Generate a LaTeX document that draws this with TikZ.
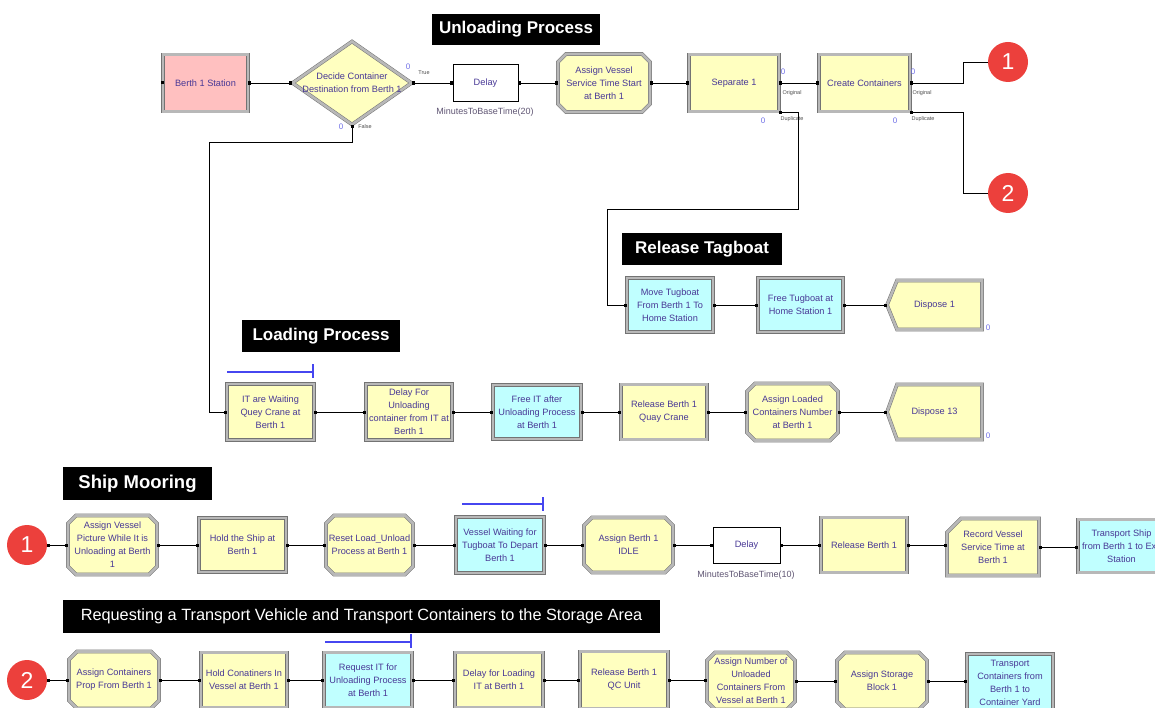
\documentclass[tikz,border=0pt]{standalone}
\usepackage{fontspec}
\setmainfont{Liberation Sans}
\usetikzlibrary{arrows.meta,calc}
\definecolor{byel}{RGB}{255,255,192}
\definecolor{bcyan}{RGB}{192,255,255}
\definecolor{bpink}{RGB}{255,192,192}
\definecolor{btxt}{RGB}{72,56,150}
\definecolor{bgrey}{RGB}{95,85,115}
\definecolor{bblue}{RGB}{70,70,240}
\definecolor{bzero}{RGB}{110,110,230}
\definecolor{bred}{RGB}{236,64,60}
\tikzset{
  modline/.style={draw=black!55, double=black!28, double distance=2.6pt, line width=0.5pt, line join=miter},
  txt/.style={align=center, text=btxt, inner sep=0pt, font=\fontsize{9.2}{13}\selectfont},
  rbox/.style={modline, txt, rectangle},
  dbox/.style={draw=black, line width=0.7pt, fill=white, txt, rectangle},
  conn/.style={draw=black, line width=0.9pt, arrows={Square[length=3pt,width=3pt]-Square[length=3pt,width=3pt]}},
  conns/.style={draw=black, line width=0.9pt, arrows={Square[length=3pt,width=3pt]-}},
  queue/.style={draw=bblue, line width=1.1pt},
  banner/.style={fill=black, text=white, inner sep=0pt, font=\fontsize{17}{19}\selectfont\bfseries},
  circ/.style={circle, fill=bred, text=white, minimum size=40pt, inner sep=0pt, font=\fontsize{23}{23}\selectfont},
  tiny/.style={inner sep=0pt, text=black!70, font=\fontsize{5.5}{6}\selectfont},
  zero/.style={inner sep=0pt, text=bzero, font=\fontsize{8}{8}\selectfont},
  expr/.style={inner sep=0pt, text=bgrey, font=\fontsize{9}{10}\selectfont},
}
% octagon module: name, cx, cy, w, h, fill, text
\newcommand\OctMod[7]{%
  \path[modline,fill=#6] (#2-#4/2,#3-#5/2+8) -- (#2-#4/2+8,#3-#5/2) -- (#2+#4/2-8,#3-#5/2) -- (#2+#4/2,#3-#5/2+8) -- (#2+#4/2,#3+#5/2-8) -- (#2+#4/2-8,#3+#5/2) -- (#2-#4/2+8,#3+#5/2) -- (#2-#4/2,#3+#5/2-8) -- cycle;
  \node[txt,minimum width=#4,minimum height=#5] (#1) at (#2,#3) {#7};}
% dispose module
\newcommand\DispMod[7]{%
  \path[modline,fill=#6] (#2-#4/2,#3) -- (#2-#4/2+10,#3-#5/2) -- (#2+#4/2,#3-#5/2) -- (#2+#4/2,#3+#5/2) -- (#2-#4/2+10,#3+#5/2) -- cycle;
  \node[txt,minimum width=#4,minimum height=#5] (#1) at (#2,#3) {#7};}
% record module
\newcommand\RecMod[7]{%
  \path[modline,fill=#6] (#2-#4/2,#3-#5/2+14) -- (#2-#4/2+14,#3-#5/2) -- (#2+#4/2,#3-#5/2) -- (#2+#4/2,#3+#5/2) -- (#2-#4/2,#3+#5/2) -- cycle;
  \node[txt,minimum width=#4,minimum height=#5] (#1) at (#2,#3) {#7};}
\begin{document}
\begin{tikzpicture}[x=1pt,y=-1pt]
\useasboundingbox (0,0) rectangle (1155,708);
\clip (0,0) rectangle (1155,708);

% ---------- banners ----------
\node[banner, minimum width=168pt, minimum height=31pt] (bUnl) at (516,29.5) {Unloading Process};
\node[banner, minimum width=160pt, minimum height=32pt] (bTag) at (702,249) {Release Tagboat};
\node[banner, minimum width=158pt, minimum height=32pt] (bLoad) at (321,336) {Loading Process};
\node[banner, minimum width=149pt, minimum height=33pt, font=\fontsize{18.5}{20}\selectfont\bfseries] (bShip) at (137.5,483.5) {Ship Mooring};
\node[banner, minimum width=597pt, minimum height=33pt, font=\fontsize{16.3}{18}\selectfont] (bReq) at (361.5,616.5) {Requesting a Transport Vehicle and Transport Containers to the Storage Area};

% ---------- unloading process ----------
\node[rbox, fill=bpink, minimum width=85pt, minimum height=57pt] (st) at (205.5,83) {Berth 1 Station};
\fill[black] ($(st.west)+(-1.5,-1.5)$) rectangle ($(st.west)+(1.5,1.5)$);
\path[modline, fill=byel] (292.5,83) -- (352,41.5) -- (411.5,83) -- (352,124.5) -- cycle;
\node[txt, minimum width=119pt, minimum height=83pt] (dec) at (352,83) {Decide Container\\Destination from Berth 1};
\node[dbox, minimum width=65pt, minimum height=37pt] (dl1) at (485.5,83) {Delay};
\node[expr] (ex1) at (485,112.5) {MinutesToBaseTime(20)};
\OctMod{avs}{604}{83}{92}{58}{byel}{Assign Vessel\\Service Time Start\\at Berth 1}
\node[rbox, fill=byel, minimum width=90pt, minimum height=57pt] (sep) at (734,83) {Separate 1};
\node[rbox, fill=byel, minimum width=91pt, minimum height=57pt] (cc) at (864.5,83) {Create Containers};
\node[circ] (c1) at (1008,62) {1};
\node[circ] (c2) at (1008,193) {2};

\node[zero] (z1) at (408,67) {0};
\node[tiny] (tr) at (424,72.5) {True};
\node[zero] (z2) at (341,127) {0};
\node[tiny] (fa) at (365,127) {False};
\node[zero] (z3) at (783,72) {0};
\node[tiny] (o1) at (792,93) {Original};
\node[zero] (z4) at (763,121) {0};
\node[tiny] (du1) at (792,119.5) {Duplicate};
\node[zero] (z5) at (913,72) {0};
\node[tiny] (o2) at (922,93) {Original};
\node[zero] (z6) at (895,121) {0};
\node[tiny] (du2) at (923,119.5) {Duplicate};

\draw[conn] (st.east) -- (dec.west);
\draw[conn] (dec.east) -- (dl1.west);
\draw[conn] (dl1.east) -- (avs.west);
\draw[conn] (avs.east) -- (sep.west);
\draw[conn] (sep.east) -- (cc.west);
\draw[conns] (cc.east) -- ++(53,0) |- (c1.west);
\draw[conns] ($(cc.south east)+(0,1)$) -- ++(53,0) |- (c2.west);

% ---------- release tagboat ----------
\node[rbox, fill=bcyan, minimum width=86pt, minimum height=54pt] (mt) at (670,305) {Move Tugboat\\From Berth 1 To\\Home Station};
\node[rbox, fill=bcyan, minimum width=85pt, minimum height=54pt] (ft) at (800.5,305) {Free Tugboat at\\Home Station 1};
\DispMod{d1}{934.5}{305}{95}{49}{byel}{Dispose 1}
\node[zero] (z7) at (988,328) {0};
\draw[conn] ($(sep.south east)+(0,1)$) -- ++(19,0) -- ++(0,97) -| ($(mt.west)+(-19,0)$) -- (mt.west);
\draw[conn] (mt.east) -- (ft.west);
\draw[conn] (ft.east) -- (d1.west);

% ---------- loading process ----------
\draw[queue] (227,372) -- (313,372);
\draw[queue] (313,364) -- (313,378);
\node[rbox, fill=byel, minimum width=87pt, minimum height=56pt] (itw) at (270.5,412) {IT are Waiting\\Quey Crane at\\Berth 1};
\node[rbox, fill=byel, minimum width=86pt, minimum height=56pt] (dfu) at (409,412) {Delay For\\Unloading\\container from IT at\\Berth 1};
\node[rbox, fill=bcyan, minimum width=88pt, minimum height=54pt] (fit) at (537,412) {Free IT after\\Unloading Process\\at Berth 1};
\node[rbox, fill=byel, minimum width=86pt, minimum height=55pt] (rbq) at (664,412) {Release Berth 1\\Quay Crane};
\OctMod{alc}{792.5}{412}{91}{57}{byel}{Assign Loaded\\Containers Number\\at Berth 1}
\DispMod{d13}{934.5}{412}{95}{55}{byel}{Dispose 13}
\node[zero] (z8) at (988,436) {0};
\draw[conn] (dec.south) -- ++(0,18) -| ($(itw.west)+(-17,0)$) -- (itw.west);
\draw[conn] (itw.east) -- (dfu.west);
\draw[conn] (dfu.east) -- (fit.west);
\draw[conn] (fit.east) -- (rbq.west);
\draw[conn] (rbq.east) -- (alc.west);
\draw[conn] (alc.east) -- (d13.west);

% ---------- ship mooring ----------
\node[circ] (c1b) at (27,545) {1};
\OctMod{avp}{112.5}{545}{89}{59}{byel}{Assign Vessel\\Picture While It is\\Unloading at Berth\\1}
\node[rbox, fill=byel, minimum width=87pt, minimum height=54pt] (hs) at (242.5,545) {Hold the Ship at\\Berth 1};
\OctMod{rlu}{369.5}{545}{87}{59}{byel}{Reset Load\_Unload\\Process at Berth 1}
\draw[queue] (462,504) -- (543,504);
\draw[queue] (543,497) -- (543,511);
\node[rbox, fill=bcyan, minimum width=88pt, minimum height=56pt] (vw) at (500,545) {Vessel Waiting for\\Tugboat To Depart\\Berth 1};
\OctMod{ab}{628.5}{545}{89}{55}{byel}{Assign Berth 1\\IDLE}
\node[dbox, minimum width=67pt, minimum height=36pt] (dl2) at (746.5,545) {Delay};
\node[expr] (ex2) at (746,575.5) {MinutesToBaseTime(10)};
\node[rbox, fill=byel, minimum width=86pt, minimum height=55pt] (rb) at (864,545) {Release Berth 1};
\RecMod{rec}{993}{547}{92}{57}{byel}{Record Vessel\\Service Time at\\Berth 1}
\node[rbox, fill=bcyan, minimum width=87pt, minimum height=53pt] (ts) at (1121.5,546) {Transport Ship\\from Berth 1 to Exit\\Station};
\draw[conn] (c1b.east) -- (avp.west);
\draw[conn] (avp.east) -- (hs.west);
\draw[conn] (hs.east) -- (rlu.west);
\draw[conn] (rlu.east) -- (vw.west);
\draw[conn] (vw.east) -- (ab.west);
\draw[conn] (ab.east) -- (dl2.west);
\draw[conn] (dl2.east) -- (rb.west);
\draw[conn] (rb.east) -- (rb.east -| rec.west);
\draw[conn] (rec.east) -- (rec.east -| ts.west);

% ---------- transport containers ----------
\node[circ] (c2b) at (27,680) {2};
\draw[queue] (325,642) -- (411,642);
\draw[queue] (411,634) -- (411,648);
\OctMod{acp}{114}{680}{90}{57}{byel}{Assign Containers\\Prop From Berth 1}
\node[rbox, fill=byel, minimum width=86pt, minimum height=55pt] (hcv) at (244,680) {Hold Conatiners In\\Vessel at Berth 1};
\node[rbox, fill=bcyan, minimum width=88pt, minimum height=55pt] (rit) at (368,680) {Request IT for\\Unloading Process\\at Berth 1};
\node[rbox, fill=byel, minimum width=88pt, minimum height=55pt] (dfl) at (499,680) {Delay for Loading\\IT at Berth 1};
\node[rbox, fill=byel, minimum width=88pt, minimum height=57pt] (rqc) at (624,680) {Release Berth 1\\QC Unit};
\OctMod{anu}{751}{681}{88}{57}{byel}{Assign Number of\\Unloaded\\Containers From\\Vessel at Berth 1}
\OctMod{asb}{882}{681}{90}{57}{byel}{Assign Storage\\Block 1}
\node[rbox, fill=bcyan, minimum width=86pt, minimum height=58pt] (tc) at (1010,683) {Transport\\Containers from\\Berth 1 to\\Container Yard};
\draw[conn] (c2b.east) -- (acp.west);
\draw[conn] (acp.east) -- (hcv.west);
\draw[conn] (hcv.east) -- (rit.west);
\draw[conn] (rit.east) -- (dfl.west);
\draw[conn] (dfl.east) -- (rqc.west);
\draw[conn] (rqc.east) -- (rqc.east -| anu.west);
\draw[conn] (anu.east) -- (anu.east -| asb.west);
\draw[conn] (asb.east) -- (asb.east -| tc.west);
\end{tikzpicture}
\end{document}
